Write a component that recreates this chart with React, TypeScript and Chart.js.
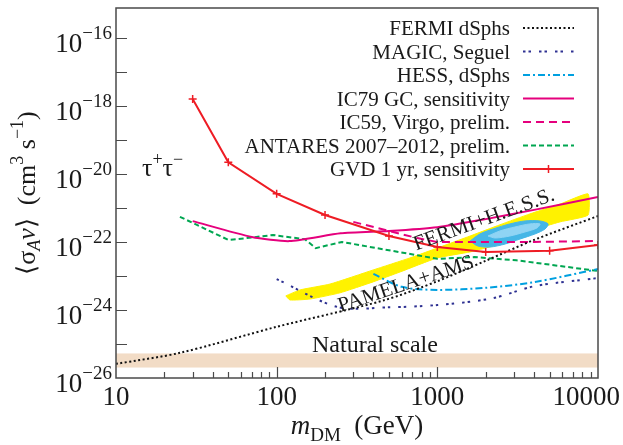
import React, { useEffect, useRef } from 'react';
import { Chart, registerables } from 'chart.js';

Chart.register(...registerables);

// ---------------- data (mass in GeV, <sigma v> in cm^3 s^-1) ----------------
const fermiMass = [10, 25, 100, 460, 1000, 2000, 4000, 10000];
const fermiSv = [2.6e-26, 5.5e-26, 3.2e-25, 1.9e-24, 7.0e-24, 2.8e-23, 1.15e-22, 5.8e-22];

const magicMass = [100, 240, 500, 1000, 2200, 4000, 10000];
const magicSv = [8.1e-24, 1.22e-24, 1.2e-24, 1.4e-24, 2.2e-24, 5.0e-24, 8.7e-24];

const hessMass = [400, 600, 1000, 2000, 4000, 10000];
const hessSv = [1.15e-23, 4.8e-24, 3.9e-24, 4.5e-24, 6.6e-24, 1.6e-23];

const ic79Mass = [30, 70, 120, 250, 500, 1000, 2000, 4000, 10000];
const ic79Sv = [4.1e-22, 1.4e-22, 1.06e-22, 1.8e-22, 2.1e-22, 2.7e-22, 4.7e-22, 8.8e-22, 2.1e-21];

const ic59Mass = [300, 750, 1000, 2000, 4000, 10000];
const ic59Sv = [3.9e-22, 1.3e-22, 1.0e-22, 1.0e-22, 1.0e-22, 1.07e-22];

const antaresMass = [25, 50, 65, 95, 150, 175, 255, 1000, 1700, 3100, 10000];
const antaresSv = [5.5e-22, 1.15e-22, 1.3e-22, 1.6e-22, 1.2e-22, 6.6e-23, 1.0e-22, 3.2e-23, 3.6e-23, 2.9e-23, 1.4e-23];

const gvdMass = [30, 50, 100, 200, 500, 1000, 2000, 5000, 10000];
const gvdSv = [1.6e-18, 2.2e-20, 2.6e-21, 6.2e-22, 1.5e-22, 7.1e-23, 5.1e-23, 5.5e-23, 8.1e-23];

// PAMELA+AMS favoured region (closed outline)
const pamelaMass = [114, 140, 215, 398, 676, 1040, 1600, 2450, 3770, 5800, 8670, 8670, 5800, 3940, 2450, 1600, 1000, 586, 398, 248, 161, 121, 114];
const pamelaSv = [2.6e-24, 3.9e-24, 5.8e-24, 1.5e-23, 3.4e-23, 7.1e-23, 1.5e-22, 3.2e-22, 6.7e-22, 1.3e-21, 2.6e-21, 6.2e-22, 3.9e-22, 2.25e-22, 8.7e-23, 5.1e-23, 3.4e-23, 1.31e-23, 6.7e-24, 3.2e-24, 2.1e-24, 1.97e-24, 2.6e-24];

// FERMI+H.E.S.S. region (outer and inner contours)
const fhOuterMass = [1600, 1840, 2220, 2830, 3510, 4350, 4890, 4680, 4050, 3270, 2640, 2130, 1790, 1600];
const fhOuterSv = [1.07e-22, 1.72e-22, 2.41e-22, 3.4e-22, 4.15e-22, 4.15e-22, 3.4e-22, 2.41e-22, 1.72e-22, 1.22e-22, 8.7e-23, 7.1e-23, 7.6e-23, 1.07e-22];
const fhInnerMass = [2070, 2450, 3040, 3770, 4350, 4170, 3510, 2830, 2290, 2070];
const fhInnerSv = [1.5e-22, 2.11e-22, 2.76e-22, 3.4e-22, 3.4e-22, 2.58e-22, 1.97e-22, 1.5e-22, 1.31e-22, 1.5e-22];

// natural scale band
const naturalLow = 2.1e-26;
const naturalHigh = 5.1e-26;

// axes
const xMin = 10;
const xMax = 10000;
const yMin = 1e-26;
const yMax = 7.6e-16;
const xTickLabels = ['10', '100', '1000', '10000'];
const yTickExponents = [-26, -25, -24, -23, -22, -21, -20, -19, -18, -17, -16];
const yLabelExponents = [-26, -24, -22, -20, -18, -16];

const FONT = '"Liberation Serif", "Times New Roman", Times, serif';

const pts = (xs: number[], ys: number[]) => xs.map((x, i) => ({ x, y: ys[i] }));

const lineDs = (label: string, xs: number[], ys: number[], color: string, dash: number[], extra: any = {}) => ({
  label,
  data: pts(xs, ys),
  borderColor: color,
  backgroundColor: color,
  borderWidth: 2,
  borderDash: dash,
  pointRadius: 0,
  fill: false,
  tension: 0,
  order: 1,
  legend: true,
  ...extra,
});

const shapeDs = (label: string, xs: number[], ys: number[], color: string, order: number, tension = 0.3) => ({
  label,
  data: pts(xs, ys),
  borderColor: color,
  backgroundColor: color,
  borderWidth: 1,
  pointRadius: 0,
  fill: 'shape',
  tension,
  order,
  legend: false,
});

type Run = { t: string; f: string; dy?: number };
const runsWidth = (ctx: CanvasRenderingContext2D, runs: Run[]) => {
  let w = 0;
  for (const r of runs) {
    ctx.font = r.f;
    w += ctx.measureText(r.t).width;
  }
  return w;
};
const drawRuns = (ctx: CanvasRenderingContext2D, runs: Run[], x: number, y: number) => {
  let cx = x;
  for (const r of runs) {
    ctx.font = r.f;
    ctx.fillText(r.t, cx, y + (r.dy || 0));
    cx += ctx.measureText(r.t).width;
  }
};

const decorPlugin = {
  id: 'decor',
  afterDatasetsDraw(chart: any) {
    const ctx: CanvasRenderingContext2D = chart.ctx;
    const xs = chart.scales.x;
    const ys = chart.scales.y;
    ctx.save();
    ctx.fillStyle = '#1a1a1a';
    ctx.textAlign = 'left';
    ctx.textBaseline = 'alphabetic';
    // tau+ tau-
    drawRuns(ctx, [
      { t: 'τ', f: `26px ${FONT}` },
      { t: '+', f: `18px ${FONT}`, dy: -11 },
      { t: 'τ', f: `26px ${FONT}` },
      { t: '−', f: `18px ${FONT}`, dy: -11 },
    ], 142, 176);
    // Natural scale
    ctx.font = `24px ${FONT}`;
    ctx.fillText('Natural scale', 312, 352);
    // rotated annotations
    const rot = (text: string, m: number, sv: number, ang: number) => {
      ctx.save();
      ctx.translate(xs.getPixelForValue(m), ys.getPixelForValue(sv));
      ctx.rotate(ang);
      ctx.font = `21px ${FONT}`;
      ctx.fillText(text, 0, 0);
      ctx.restore();
    };
    rot('FERMI+H.E.S.S.', 740, 5.6e-23, (-20 * Math.PI) / 180);
    rot('PAMELA+AMS', 250, 8.7e-25, (-18.5 * Math.PI) / 180);
    ctx.restore();
  },
  afterDraw(chart: any) {
    const ctx: CanvasRenderingContext2D = chart.ctx;
    const ca = chart.chartArea;
    const xs = chart.scales.x;
    const ys = chart.scales.y;
    ctx.save();
    // frame
    ctx.strokeStyle = '#4a4a4a';
    ctx.lineWidth = 1.5;
    ctx.strokeRect(ca.left, ca.top, ca.right - ca.left, ca.bottom - ca.top);
    // y ticks (inward)
    ctx.lineWidth = 1.2;
    ctx.beginPath();
    for (const e of yTickExponents) {
      const y = Math.round(ys.getPixelForValue(Math.pow(10, e))) + 0.5;
      if (y < ca.top + 1 || y > ca.bottom - 1) continue;
      ctx.moveTo(ca.left, y);
      ctx.lineTo(ca.left + 11, y);
    }
    // x ticks (inward)
    for (let d = 10; d < xMax; d *= 10) {
      for (let k = 1; k <= 9; k++) {
        const v = d * k;
        if (v <= xMin || v >= xMax) continue;
        const x = Math.round(xs.getPixelForValue(v)) + 0.5;
        ctx.moveTo(x, ca.bottom);
        ctx.lineTo(x, ca.bottom - (k === 1 ? 11 : 6));
      }
    }
    ctx.stroke();

    ctx.fillStyle = '#1a1a1a';
    ctx.textBaseline = 'alphabetic';
    ctx.textAlign = 'left';
    // y labels
    for (const e of yLabelExponents) {
      const y = ys.getPixelForValue(Math.pow(10, e));
      const base = { t: '10', f: `27px ${FONT}` };
      const exp = { t: '−' + Math.abs(e), f: `19px ${FONT}` };
      const bw = runsWidth(ctx, [base]);
      const ew = runsWidth(ctx, [exp]);
      const start = ca.left - 4 - bw - ew;
      drawRuns(ctx, [base], start, y + 14);
      drawRuns(ctx, [exp], start + bw, y + 1);
    }
    // x labels
    ctx.font = `27px ${FONT}`;
    xTickLabels.forEach((lab) => {
      const v = parseFloat(lab);
      let x = xs.getPixelForValue(v);
      const w = ctx.measureText(lab).width;
      x = Math.min(x, chart.width - w / 2 - 3);
      ctx.textAlign = 'center';
      ctx.fillText(lab, x, 405);
    });
    ctx.textAlign = 'left';
    // x title
    const xr: Run[] = [
      { t: 'm', f: `italic 27px ${FONT}` },
      { t: 'DM', f: `19px ${FONT}`, dy: 7 },
      { t: '  (GeV)', f: `27px ${FONT}` },
    ];
    const xw = runsWidth(ctx, xr);
    drawRuns(ctx, xr, (ca.left + ca.right) / 2 - xw / 2, 434);
    // y title
    const yr: Run[] = [
      { t: '⟨σ', f: `26px ${FONT}` },
      { t: 'A', f: `italic 18px ${FONT}`, dy: 5 },
      { t: 'v', f: `italic 26px ${FONT}` },
      { t: '⟩  (cm', f: `26px ${FONT}` },
      { t: '3', f: `18px ${FONT}`, dy: -12 },
      { t: ' s', f: `26px ${FONT}` },
      { t: '−1', f: `18px ${FONT}`, dy: -12 },
      { t: ')', f: `26px ${FONT}` },
    ];
    const yw = runsWidth(ctx, yr);
    ctx.save();
    ctx.translate(35, (ca.top + ca.bottom) / 2);
    ctx.rotate(-Math.PI / 2);
    drawRuns(ctx, yr, -yw / 2, 0);
    ctx.restore();

    // legend
    const items = chart.data.datasets.filter((d: any) => d.legend);
    items.forEach((d: any, i: number) => {
      const ry = 28 + i * 23.5;
      ctx.font = `21px ${FONT}`;
      ctx.textAlign = 'right';
      ctx.fillStyle = '#1a1a1a';
      ctx.fillText(d.label, 510, ry + 7);
      ctx.save();
      ctx.strokeStyle = d.borderColor;
      ctx.lineWidth = d.borderWidth;
      ctx.setLineDash(d.borderDash || []);
      ctx.beginPath();
      ctx.moveTo(523, ry);
      ctx.lineTo(574, ry);
      ctx.stroke();
      if (d.pointStyle === 'cross') {
        ctx.setLineDash([]);
        ctx.lineWidth = 1.5;
        ctx.beginPath();
        ctx.moveTo(548.5, ry - 4);
        ctx.lineTo(548.5, ry + 4);
        ctx.moveTo(544.5, ry);
        ctx.lineTo(552.5, ry);
        ctx.stroke();
      }
      ctx.restore();
    });
    ctx.restore();
  },
};

export default function App() {
  const ref = useRef<HTMLCanvasElement>(null);
  useEffect(() => {
    document.body.style.margin = '0';
    const datasets: any[] = [
      lineDs('FERMI dSphs', fermiMass, fermiSv, '#111111', [2, 2.5], { tension: 0.3 }),
      lineDs('MAGIC, Seguel', magicMass, magicSv, '#2e3192', [2.5, 3, 2.5, 8], { tension: 0.3 }),
      lineDs('HESS, dSphs', hessMass, hessSv, '#00a0e0', [7, 3, 2, 3], { tension: 0.3 }),
      lineDs('IC79 GC, sensitivity', ic79Mass, ic79Sv, '#e5007d', [], { tension: 0.2 }),
      lineDs('IC59, Virgo, prelim.', ic59Mass, ic59Sv, '#e5007d', [8, 5]),
      lineDs('ANTARES 2007–2012, prelim.', antaresMass, antaresSv, '#00a651', [5, 3]),
      lineDs('GVD 1 yr, sensitivity', gvdMass, gvdSv, '#ee1c24', [], {
        pointRadius: 4,
        pointStyle: 'cross',
        pointBorderWidth: 1.5,
        pointBorderColor: '#ee1c24',
        order: 0,
      }),
      shapeDs('FERMI+H.E.S.S. inner', fhInnerMass, fhInnerSv, '#8fd4f4', 2),
      shapeDs('FERMI+H.E.S.S.', fhOuterMass, fhOuterSv, '#45b6e6', 3),
      shapeDs('PAMELA+AMS', pamelaMass, pamelaSv, '#fff200', 4, 0.15),
      shapeDs('Natural scale', [xMin, xMax, xMax, xMin, xMin], [naturalLow, naturalLow, naturalHigh, naturalHigh, naturalLow], '#f2dcc6', 5, 0),
    ];
    const chart = new Chart(ref.current as HTMLCanvasElement, {
      type: 'line',
      data: { datasets },
      options: {
        animation: false,
        responsive: false,
        devicePixelRatio: 1,
        layout: { padding: { left: 116, right: 25, top: 8, bottom: 67 } },
        scales: {
          x: { type: 'logarithmic', min: xMin, max: xMax, display: false },
          y: { type: 'logarithmic', min: yMin, max: yMax, display: false },
        },
        plugins: { legend: { display: false }, tooltip: { enabled: false } },
      } as any,
      plugins: [decorPlugin],
    });
    return () => chart.destroy();
  }, []);
  return <canvas ref={ref} width={623} height={445} style={{ display: 'block' }} />;
}
